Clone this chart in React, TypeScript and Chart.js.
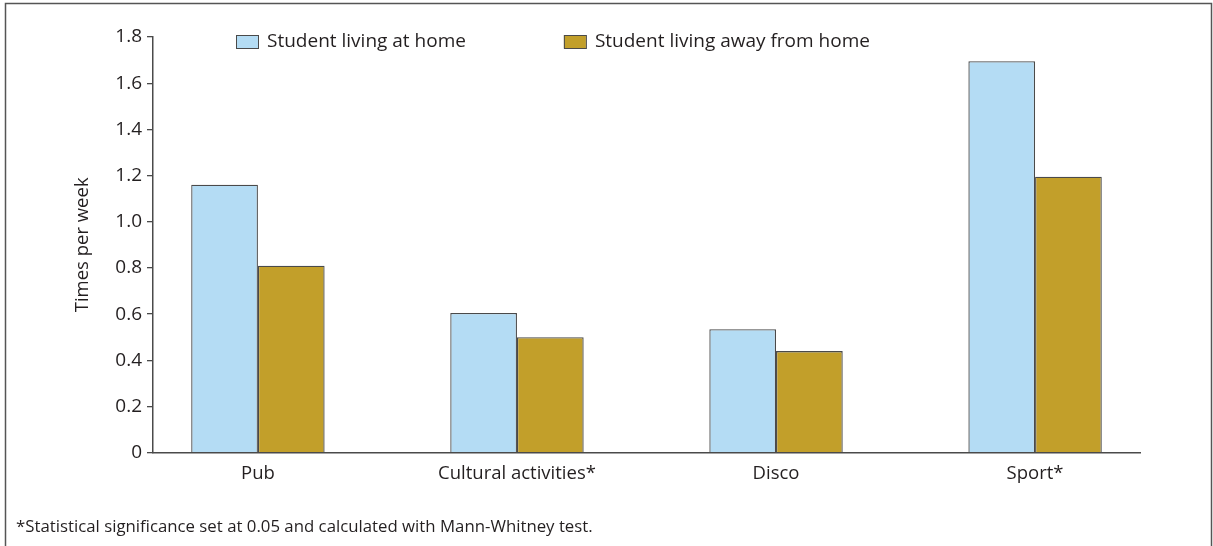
import React, { useEffect, useRef } from "react";
import { Chart, registerables } from "chart.js";

Chart.register(...registerables);

const categories = ["Pub", "Cultural activities*", "Disco", "Sport*"];
const atHome = [1.16, 0.605, 0.535, 1.695];
const awayFromHome = [0.81, 0.5, 0.44, 1.195];
const seriesLabels = ["Student living at home", "Student living away from home"];
const seriesColors = ["#B4DCF4", "#C29F2A"];
const yTicks = [0, 0.2, 0.4, 0.6, 0.8, 1.0, 1.2, 1.4, 1.6, 1.8];
const yTitle = "Times per week";
const footnote = "*Statistical significance set at 0.05 and calculated with Mann-Whitney test.";

const FONT = "'Open Sans', 'Noto Sans', sans-serif";
const TEXT = "#231F20";
const LINE = "#4a4a4a";

const framePlugin = {
  id: "frame",
  beforeDraw(chart: any) {
    const { ctx, width, height } = chart;
    ctx.save();
    ctx.fillStyle = "#ffffff";
    ctx.fillRect(0, 0, width, height);
    ctx.strokeStyle = "#555555";
    ctx.lineWidth = 1.5;
    ctx.strokeRect(5.5, 3.5, width - 7, height + 20);
    ctx.restore();
  },
  afterDraw(chart: any) {
    const { ctx } = chart;
    ctx.save();
    ctx.fillStyle = TEXT;
    ctx.font = `16.8px ${FONT}`;
    ctx.textBaseline = "middle";
    ctx.textAlign = "left";
    ctx.fillText(footnote, 16, 527);
    ctx.restore();
  },
};

const legendPlugin = {
  id: "insideLegend",
  afterDraw(chart: any) {
    const { ctx, chartArea } = chart;
    ctx.save();
    ctx.font = `19px ${FONT}`;
    ctx.textBaseline = "middle";
    ctx.textAlign = "left";
    let x = chartArea.left + 83;
    const yTop = chartArea.top - 2;
    chart.data.datasets.forEach((ds: any) => {
      ctx.fillStyle = ds.backgroundColor;
      ctx.fillRect(x, yTop, 22, 13);
      ctx.strokeStyle = LINE;
      ctx.lineWidth = 1;
      ctx.strokeRect(x + 0.5, yTop + 0.5, 22, 13);
      ctx.fillStyle = TEXT;
      ctx.fillText(ds.label, x + 31, yTop + 7);
      x += 31 + ctx.measureText(ds.label).width + 98;
    });
    ctx.restore();
  },
};

export default function App() {
  const ref = useRef<HTMLCanvasElement>(null);
  useEffect(() => {
    if (!ref.current) return;
    const chart = new Chart(ref.current, {
      type: "bar",
      data: {
        datasets: [
          {
            label: seriesLabels[0],
            data: atHome.map((v, i) => ({ x: i, y: v })),
            backgroundColor: seriesColors[0],
            borderColor: LINE,
            borderWidth: 1.3,
            categoryPercentage: 0.515,
            barPercentage: 1,
          },
          {
            label: seriesLabels[1],
            data: awayFromHome.map((v, i) => ({ x: i, y: v })),
            backgroundColor: seriesColors[1],
            borderColor: LINE,
            borderWidth: 1.3,
            categoryPercentage: 0.515,
            barPercentage: 1,
          },
        ],
      } as any,
      options: {
        animation: false,
        responsive: false,
        maintainAspectRatio: false,
        layout: { padding: { left: 0, top: 37, right: 73, bottom: 53.3 } },
        plugins: { legend: { display: false }, tooltip: { enabled: false } },
        scales: {
          x: {
            type: "linear",
            min: -0.405,
            max: 3.405,
            offset: false,
            grid: { display: false, drawTicks: false },
            border: { display: true, color: LINE, width: 1.5 },
            afterBuildTicks: (scale: any) => {
              scale.ticks = categories.map((_, i) => ({ value: i }));
            },
            afterFit: (scale: any) => {
              scale.height = 40;
            },
            ticks: {
              autoSkip: false,
              maxRotation: 0,
              padding: 10,
              color: TEXT,
              font: { family: FONT, size: 18.5 },
              callback: (v: any) => categories[v as number],
            },
          },
          y: {
            type: "linear",
            min: 0,
            max: 1.8,
            grid: { display: true, drawOnChartArea: false, drawTicks: true, tickLength: 6, color: LINE, lineWidth: 1.3 },
            border: { display: true, color: LINE, width: 1.5 },
            afterBuildTicks: (scale: any) => {
              scale.ticks = yTicks.map((v) => ({ value: v }));
            },
            afterFit: (scale: any) => {
              scale.width = 153;
            },
            title: {
              display: true,
              text: yTitle,
              color: TEXT,
              font: { family: FONT, size: 18.5 },
              padding: { top: 71.9, bottom: 0 },
            },
            ticks: {
              padding: 5,
              color: TEXT,
              font: { family: FONT, size: 19 },
              callback: (v: any) => (v === 0 ? "0" : Number(v).toFixed(1)),
            },
          },
        },
      } as any,
      plugins: [framePlugin, legendPlugin],
    });
    return () => chart.destroy();
  }, []);
  return (
    <div style={{ position: "fixed", left: 0, top: 0, width: 1213, height: 546, background: "#fff" }}>
      <canvas ref={ref} width={1213} height={546} style={{ display: "block", width: 1213, height: 546 }} />
    </div>
  );
}
